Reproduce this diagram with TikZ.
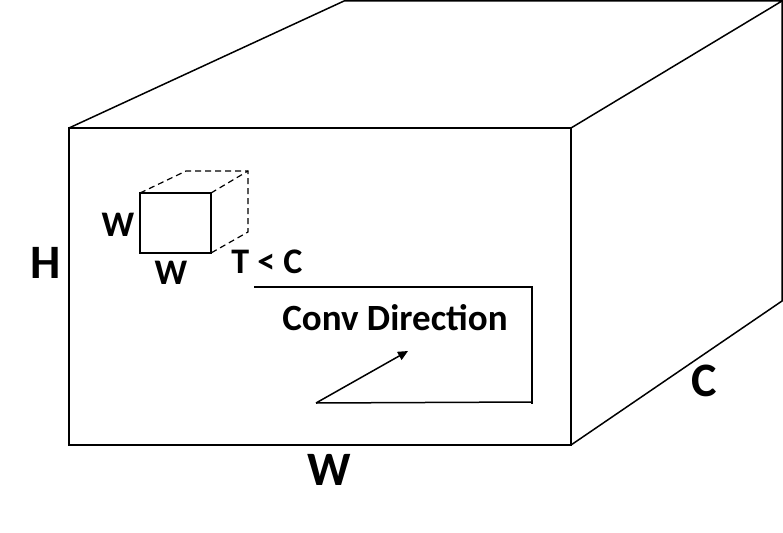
\documentclass[tikz,border=0pt]{standalone}
\usepackage{fontspec}
\setmainfont{Carlito}
\usetikzlibrary{arrows.meta}
\begin{document}
\begin{tikzpicture}[x=1pt,y=-1pt,
  edge/.style={line width=1.5pt,line join=miter},
  dedge/.style={line width=1.2pt,dash pattern=on 6pt off 4pt},
  big/.style={font=\fontsize{48}{48}\selectfont\bfseries,inner sep=0pt,anchor=base},
  small/.style={font=\fontsize{36}{36}\selectfont\bfseries,inner sep=0pt,anchor=base},
  mid/.style={font=\fontsize{37}{37}\selectfont\bfseries,inner sep=0pt,anchor=base}]
\useasboundingbox (0,0) rectangle (783,532);
% big box
\coordinate (a) at (69,128);
\coordinate (b) at (571,128);
\coordinate (c) at (571,445);
\coordinate (d) at (69,445);
\coordinate (e) at (344,1);
\coordinate (f) at (782,1);
\coordinate (g) at (782,301);
\draw[edge] (a) -- (b) -- (c) -- (d) -- cycle;
\draw[edge] (a) -- (e) -- (f) -- (b);
\draw[edge] (f) -- (g) -- (c);
% small cube
\coordinate (sa) at (140,193);
\coordinate (sb) at (211,193);
\coordinate (sc) at (211,253);
\coordinate (sd) at (140,253);
\coordinate (se) at (186,171);
\coordinate (sf) at (248,171);
\coordinate (sg) at (248,232);
\draw[edge] (sa) -- (sb) -- (sc) -- (sd) -- cycle;
\draw[dedge] (sa) -- (se) -- (sf) -- (sg) -- (sc);
\draw[dedge] (sb) -- (sf);
% conv path
\coordinate (p1) at (254,287);
\coordinate (p2) at (532,287);
\coordinate (p3) at (532,404);
\coordinate (p3b) at (532,402);
\coordinate (p4) at (316,403);
\coordinate (p5) at (408,351);
\draw[edge] (p1) -- (p2) -- (p3);
\draw[edge] (p3b) -- (p4);
\draw[edge,-{Triangle[length=10pt,width=9pt]}] (p4) -- (p5);
% labels
\node[big] (H) at (46,278) {H};
\node[big] (W) at (329,485) {W};
\node[big] (C) at (704,396) {C};
\node[small] (w1) at (118,236) {W};
\node[small] (w2) at (171,284) {W};
\node[small] (tc) at (267,273) {T < C};
\node[mid] (cd) at (395,330) {Conv Direction};
\end{tikzpicture}
\end{document}
